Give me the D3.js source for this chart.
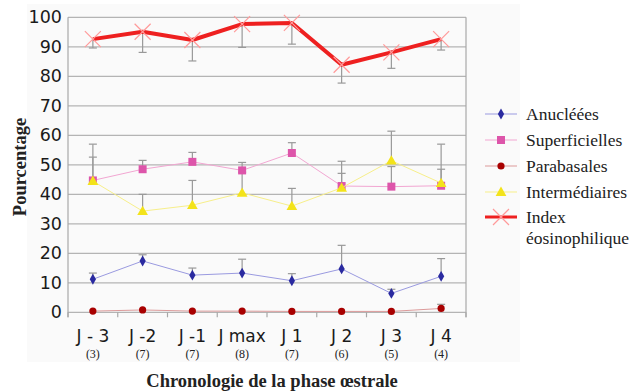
<!DOCTYPE html>
<html><head><meta charset="utf-8">
<script src="https://cdn.jsdelivr.net/npm/d3@7"></script>
<style>body{margin:0;background:#fff}svg{display:block}</style>
</head><body>
<svg id="c" width="641" height="392"></svg>
<script>
const categories = ["J - 3","J -2","J -1","J max","J 1","J 2","J 3","J 4"];
const counts = ["(3)","(7)","(7)","(8)","(7)","(6)","(5)","(4)"];
const yTicks = [0,10,20,30,40,50,60,70,80,90,100];

const anucleees      = [11.2,17.4,12.6,13.3,10.7,14.7,6.4,12.2];
const anucleeesErr   = [13.3,19.5,15.0,18.0,13.1,22.7,7.8,18.2];
const superficielles = [44.7,48.5,51.0,48.1,54.0,42.8,42.6,42.9];
const superErr       = [57.0,51.5,54.2,50.8,57.5,47.1,49.4,48.5];
const parabasales    = [0.4,0.8,0.4,0.4,0.3,0.3,0.3,1.3];
const parabErr       = [0.4,0.8,0.4,0.4,0.3,0.3,0.3,2.7];
const intermediaires = [44.5,34.3,36.3,40.5,36.0,42.2,51.4,43.8];
const interErr       = [52.6,40.0,44.7,47.5,42.0,51.2,61.4,57.0];
const indexEos       = [92.6,95.1,92.3,97.7,98.1,83.9,88.1,92.6];
const indexErr       = [89.6,88.1,85.2,89.8,90.9,77.7,82.7,88.9];

const series = [
  {name:"Anucléées", lines:["Anucléées"], v:anucleees, e:anucleeesErr, line:"#9a9ae0", mark:"#2a2aa0", w:1, shape:"diamond"},
  {name:"Superficielles", lines:["Superficielles"], v:superficielles, e:superErr, line:"#f2a6d2", mark:"#dd55aa", w:1, shape:"square"},
  {name:"Parabasales", lines:["Parabasales"], v:parabasales, e:parabErr, line:"#dc9a9a", mark:"#a80000", w:1, shape:"circle"},
  {name:"Intermédiaires", lines:["Intermédiaires"], v:intermediaires, e:interErr, line:"#f7ef8a", mark:"#f3e31a", w:1, shape:"triangle"},
  {name:"Index éosinophilique", lines:["Index","éosinophilique"], v:indexEos, e:indexErr, line:"#ee2020", mark:"#ff9a9a", w:4, shape:"x"}
];

const SERIF = "'Liberation Serif','Times New Roman','DejaVu Serif',serif";
const svg = d3.select("#c");
svg.append("rect").attr("x",27).attr("y",4).attr("width",493).attr("height",358).attr("fill","#fafafa");

const L=68, R=466, T=17.3, B=312.3;
const x = d3.scaleBand().domain(categories).range([L,R]);
const y = d3.scaleLinear().domain([0,100]).range([B,T]);
const cx = c => x(c)+x.bandwidth()/2;

// gridlines
svg.append("g").selectAll("line").data(yTicks).join("line")
  .attr("x1",L).attr("x2",R).attr("y1",d=>y(d)).attr("y2",d=>y(d))
  .attr("stroke","#b4b4b4").attr("stroke-width",1.2);
// borders
svg.append("line").attr("x1",L).attr("x2",L).attr("y1",T).attr("y2",B+5).attr("stroke","#a8a8a8").attr("stroke-width",1.2);
svg.append("line").attr("x1",R).attr("x2",R).attr("y1",T).attr("y2",B+5).attr("stroke","#a8a8a8").attr("stroke-width",1.2);

// y axis
const yAxis = d3.axisLeft(y).tickValues(yTicks).tickSize(0).tickPadding(6);
const gy = svg.append("g").attr("transform",`translate(${L},0)`).call(yAxis);
gy.select(".domain").remove();
gy.selectAll("text").attr("font-family","DejaVu Sans").attr("font-size",17.5).attr("fill","#1a1a1a");

// x axis ticks at boundaries
const bounds = categories.map(c=>x(c)).concat([R]);
svg.append("g").selectAll("line").data(bounds).join("line")
  .attr("x1",d=>d).attr("x2",d=>d).attr("y1",B).attr("y2",B+5).attr("stroke","#a8a8a8").attr("stroke-width",1.2);
const xAxis = d3.axisBottom(x).tickSize(0).tickPadding(18);
const gx = svg.append("g").attr("transform",`translate(0,${B})`).call(xAxis);
gx.select(".domain").remove();
gx.selectAll("text").attr("font-family","DejaVu Sans").attr("font-size",17).attr("fill","#1a1a1a");
svg.append("g").selectAll("text").data(categories).join("text")
  .attr("x",d=>cx(d)).attr("y",358).attr("text-anchor","middle")
  .attr("font-family",SERIF).attr("font-size",12).attr("fill","#222")
  .text((d,i)=>counts[i]);

// titles
svg.append("text").attr("transform","translate(26,167) rotate(-90)").attr("text-anchor","middle")
  .attr("font-family",SERIF).attr("font-weight","bold").attr("font-size",18.5).attr("fill","#222").text("Pourcentage");
svg.append("text").attr("x",272).attr("y",387).attr("text-anchor","middle")
  .attr("font-family",SERIF).attr("font-weight","bold").attr("font-size",18.5).attr("fill","#222").text("Chronologie de la phase œstrale");

function marker(g, shape, color, px, py){
  if(shape==="diamond") g.append("path").attr("d",d3.symbol(d3.symbolDiamond,34)()).attr("transform",`translate(${px},${py})`).attr("fill",color);
  else if(shape==="square") g.append("rect").attr("x",px-4).attr("y",py-4).attr("width",8).attr("height",8).attr("fill",color);
  else if(shape==="circle") g.append("circle").attr("cx",px).attr("cy",py).attr("r",3.6).attr("fill",color);
  else if(shape==="triangle") g.append("path").attr("d",d3.symbol(d3.symbolTriangle,50)()).attr("transform",`translate(${px},${py+0.8})`).attr("fill",color);
  else if(shape==="x"){
    const s=8;
    g.append("path").attr("d",`M${px-s},${py-s}L${px+s},${py+s}M${px-s},${py+s}L${px+s},${py-s}`).attr("stroke",color).attr("stroke-width",1.2).attr("fill","none");
  }
}

// error bars
const eg = svg.append("g");
series.forEach(s=>{
  categories.forEach((c,i)=>{
    if(Math.abs(s.e[i]-s.v[i])<0.2) return;
    const px=cx(c);
    eg.append("line").attr("x1",px).attr("x2",px).attr("y1",y(s.v[i])).attr("y2",y(s.e[i])).attr("stroke","#999").attr("stroke-width",1.2);
    eg.append("line").attr("x1",px-4).attr("x2",px+4).attr("y1",y(s.e[i])).attr("y2",y(s.e[i])).attr("stroke","#999").attr("stroke-width",1.2);
  });
});

// lines and markers
const line = d3.line().x((d,i)=>cx(categories[i])).y(d=>y(d));
series.forEach(s=>{
  const g = svg.append("g");
  g.append("path").datum(s.v).attr("d",line).attr("fill","none").attr("stroke",s.line).attr("stroke-width",s.w).attr("stroke-linejoin","round");
  s.v.forEach((v,i)=>marker(g,s.shape,s.mark,cx(categories[i]),y(v)));
});

// legend
const lg = svg.append("g");
const rowY = [114,140,166,192,217];
series.forEach((s,k)=>{
  const yy=rowY[k];
  lg.append("line").attr("x1",485).attr("x2",517).attr("y1",yy).attr("y2",yy).attr("stroke",s.line).attr("stroke-width",s.w===4?3:1);
  marker(lg,s.shape,s.mark,501,yy);
  s.lines.forEach((t,j)=>{
    lg.append("text").attr("x",526).attr("y",yy+5.5+j*21).attr("font-family",SERIF).attr("font-size",17.5).attr("fill","#222").text(t);
  });
});
</script>
</body></html>
